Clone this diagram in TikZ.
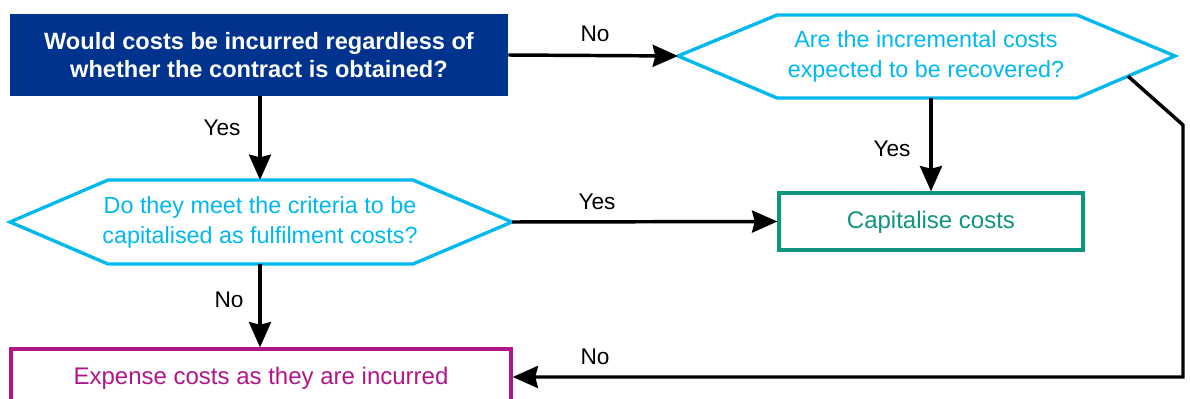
\documentclass[tikz,border=0pt]{standalone}
\usepackage{fontspec}
\setmainfont{Liberation Sans}
\usetikzlibrary{arrows.meta,calc}
\definecolor{kblue}{HTML}{00338D}
\definecolor{kcyan}{HTML}{00B8F0}
\definecolor{kteal}{HTML}{0F9480}
\definecolor{kmag}{HTML}{B0168A}
\begin{document}
\begin{tikzpicture}[x=0.75pt,y=-0.75pt,
  conn/.style={line width=2.6pt,-{Stealth[length=19pt,width=16.5pt,inset=2pt]}},
  hexline/.style={draw=kcyan,line width=2.5pt,line join=miter},
  qtext/.style={text=kcyan,font=\fontsize{17.5}{22.5}\selectfont,align=center,inner sep=0pt},
  lbl/.style={font=\fontsize{17}{20}\selectfont,inner sep=0pt},
  bluebox/.style={fill=kblue,text=white,font=\fontsize{17.7}{21}\selectfont\bfseries,align=center,
    minimum width=373.5pt,minimum height=61.5pt,inner sep=0pt},
  capbox/.style={draw=kteal,line width=2.4pt,minimum width=228pt,minimum height=42.75pt,inner sep=0pt},
  captext/.style={text=kteal,font=\fontsize{18}{22}\selectfont,inner sep=0pt},
  expbox/.style={draw=kmag,line width=2.4pt,minimum width=375pt,minimum height=45.75pt,inner sep=0pt},
  exptext/.style={text=kmag,font=\fontsize{18}{22}\selectfont,inner sep=0pt}
]
\useasboundingbox (0,0) rectangle (1190,399);
\clip (0,0) rectangle (1190,399);

% top question box
\node[bluebox] (q1) at (259,55) {Would costs be incurred regardless of\\whether the contract is obtained?};

% hexagon 1
\coordinate (h1l) at (678,56);
\coordinate (h1tl) at (777,15);
\coordinate (h1tr) at (1077,15);
\coordinate (h1r) at (1175,56);
\coordinate (h1br) at (1077,98);
\coordinate (h1bl) at (777,98);
\coordinate (h1b) at (931,98);
\draw[hexline] (h1l) -- (h1tl) -- (h1tr) -- (h1r) -- (h1br) -- (h1bl) -- cycle;
\node[qtext] (q2) at (926,56) {Are the incremental costs\\expected to be recovered?};

% hexagon 2
\coordinate (h2l) at (10,222);
\coordinate (h2tl) at (108,180);
\coordinate (h2tr) at (413,180);
\coordinate (h2r) at (512,222);
\coordinate (h2br) at (413,264);
\coordinate (h2bl) at (108,264);
\coordinate (h2t) at (260,180);
\coordinate (h2b) at (260,264);
\draw[hexline] (h2l) -- (h2tl) -- (h2tr) -- (h2r) -- (h2br) -- (h2bl) -- cycle;
\node[qtext] (q3) at (260,222) {Do they meet the criteria to be\\capitalised as fulfilment costs?};

% outcome boxes
\node[capbox] (cap) at (931,221.5) {};
\node[captext] (capt) at (931,222.5) {Capitalise costs};
\node[expbox] (exp) at (261,379.5) {};
\node[exptext] (expt) at (261,378.5) {Expense costs as they are incurred};

% connectors
\draw[conn] (q1.east) -- (h1l);
\draw[conn] (q1.south -| h2t) -- (h2t);
\draw[conn] (h1b) -- (cap.north);
\draw[conn] (h2r) -- (cap.west);
\draw[conn] (h2b) -- (exp.north -| h2b);
\coordinate (rs) at ($(h1r)!0.48!(h1br)$);
\coordinate (rk) at (1183,125);
\coordinate (rb) at (1183,377);
\draw[conn,line join=miter] (rs) -- (rk) -- (rb) -- (rb -| exp.east);

% labels
\node[lbl] (lno1) at (595,34) {No};
\node[lbl] (lyes1) at (222,128) {Yes};
\node[lbl] (lyes2) at (892,149) {Yes};
\node[lbl] (lyes3) at (597,202) {Yes};
\node[lbl] (lno2) at (229,300) {No};
\node[lbl] (lno3) at (595,357) {No};
\end{tikzpicture}
\end{document}
